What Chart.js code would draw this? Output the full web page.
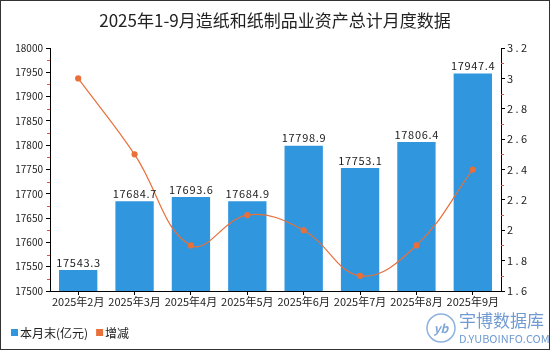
<!DOCTYPE html>
<html>
<head>
<meta charset="utf-8">
<script src="https://cdn.jsdelivr.net/npm/chart.js@4/dist/chart.umd.min.js"></script>
<style>
  html, body { margin: 0; padding: 0; background: #fff; }
  #wrap { position: relative; width: 550px; height: 350px; box-sizing: border-box; border: 1px solid #333; }
  canvas { display: block; }
</style>
</head>
<body>
<div id="wrap"><canvas id="chart" width="548" height="348"></canvas></div>
<script>
// 月份
const months = ['2025年2月', '2025年3月', '2025年4月', '2025年5月', '2025年6月', '2025年7月', '2025年8月', '2025年9月'];
// 本月末资产总计(亿元)
const totals = [17543.3, 17684.7, 17693.6, 17684.9, 17798.9, 17753.1, 17806.4, 17947.4];
// 增减(%)
const changes = [3.0, 2.5, 1.9, 2.1, 2.0, 1.7, 1.9, 2.4];

const fontFamily = '"Noto Sans CJK SC", "DejaVu Sans", sans-serif';
const barColor = '#3096de';
const lineColor = '#e8703a';

// 标题、柱顶数值、副刻度、图例和水印
const decorPlugin = {
  id: 'decor',
  afterDraw(chart) {
    const ctx = chart.ctx;
    const area = chart.chartArea;
    ctx.save();

    ctx.fillStyle = '#222';
    ctx.font = '17px ' + fontFamily;
    ctx.textAlign = 'center';
    ctx.textBaseline = 'middle';
    ctx.fillText('2025年1-9月造纸和纸制品业资产总计月度数据', 274, 20);

    // 柱顶数值
    const meta = chart.getDatasetMeta(1);
    ctx.font = '11px ' + fontFamily;
    ctx.fillStyle = '#222';
    ctx.textBaseline = 'bottom';
    meta.data.forEach((bar, i) => {
      ctx.fillText(totals[i].toFixed(1).split('').join(String.fromCharCode(8202)), bar.x, bar.y - 2);
    });

    // 红色副刻度
    ctx.strokeStyle = '#e0504a';
    ctx.lineWidth = 1;
    const y = chart.scales.y, y1 = chart.scales.y1;
    for (let v = y.min + 25; v < y.max; v += 50) {
      const py = Math.round(y.getPixelForValue(v)) + 0.5;
      ctx.beginPath(); ctx.moveTo(area.left - 3, py); ctx.lineTo(area.left, py); ctx.stroke();
    }
    for (let v = y1.min + 0.1; v < y1.max - 0.01; v += 0.2) {
      const py = Math.round(y1.getPixelForValue(v)) + 0.5;
      ctx.beginPath(); ctx.moveTo(area.right, py); ctx.lineTo(area.right + 3, py); ctx.stroke();
    }

    // 图例
    ctx.textAlign = 'left';
    ctx.textBaseline = 'middle';
    ctx.font = '12px ' + fontFamily;
    ctx.fillStyle = barColor;
    ctx.fillRect(10, 328, 7, 7);
    ctx.fillStyle = '#222';
    const name1 = '本月末(亿元)';
    ctx.fillText(name1, 19, 332);
    const x2 = 19 + ctx.measureText(name1).width + 8;
    ctx.fillStyle = lineColor;
    ctx.fillRect(x2, 328, 7, 7);
    ctx.fillStyle = '#222';
    ctx.fillText('增减', x2 + 9, 332);

    // 水印
    ctx.strokeStyle = '#8fb3dc';
    ctx.lineWidth = 1.5;
    ctx.beginPath(); ctx.arc(440, 327, 14, 0, Math.PI * 2); ctx.stroke();
    ctx.fillStyle = '#7fa6d6';
    ctx.font = 'italic bold 12px ' + fontFamily;
    ctx.textAlign = 'center';
    ctx.fillText('yb', 440, 327);
    ctx.textAlign = 'left';
    ctx.fillStyle = '#6f9bd2';
    ctx.font = '17px ' + fontFamily;
    ctx.fillText('宇博数据库', 458, 320);
    ctx.font = '11px ' + fontFamily;
    ctx.fillText('D.YUBOINFO.COM', 458, 338);

    ctx.restore();
  }
};

new Chart(document.getElementById('chart'), {
  data: {
    labels: months,
    datasets: [
      {
        type: 'line',
        label: '增减',
        data: changes,
        yAxisID: 'y1',
        borderColor: lineColor,
        backgroundColor: lineColor,
        borderWidth: 1.2,
        pointRadius: 2.5,
        pointHoverRadius: 2.5,
        tension: 0.4,
        order: 0
      },
      {
        type: 'bar',
        label: '本月末(亿元)',
        data: totals,
        yAxisID: 'y',
        backgroundColor: barColor,
        categoryPercentage: 1,
        barPercentage: 0.68,
        order: 1
      }
    ]
  },
  options: {
    responsive: false,
    animation: false,
    layout: { padding: { top: 47, bottom: 38, left: 0, right: 0 } },
    plugins: { legend: { display: false }, tooltip: { enabled: false } },
    scales: {
      x: {
        grid: { display: true, drawOnChartArea: false, offset: false, tickLength: 4, color: '#000' },
        border: { color: '#000' },
        ticks: { color: '#222', font: { family: fontFamily, size: 11 }, padding: 0, maxRotation: 0, autoSkip: false },
        afterFit(s) { s.height = 20; }
      },
      y: {
        position: 'left',
        min: 17500,
        max: 18000,
        ticks: {
          stepSize: 50,
          color: '#222',
          font: { family: fontFamily, size: 10 },
          padding: 3,
          callback: v => String(v)
        },
        grid: { drawOnChartArea: false, tickLength: 4, color: '#000' },
        border: { color: '#000' },
        afterFit(s) { s.width = 49; }
      },
      y1: {
        position: 'right',
        min: 1.6,
        max: 3.2,
        ticks: {
          stepSize: 0.2,
          color: '#222',
          font: { family: fontFamily, size: 11 },
          padding: 2,
          callback: v => String(Math.round(v * 10) / 10).split('').join(' ')
        },
        grid: { drawOnChartArea: false, tickLength: 4, color: '#000' },
        border: { color: '#000' },
        afterFit(s) { s.width = 48; }
      }
    }
  },
  plugins: [decorPlugin]
});
</script>
</body>
</html>
